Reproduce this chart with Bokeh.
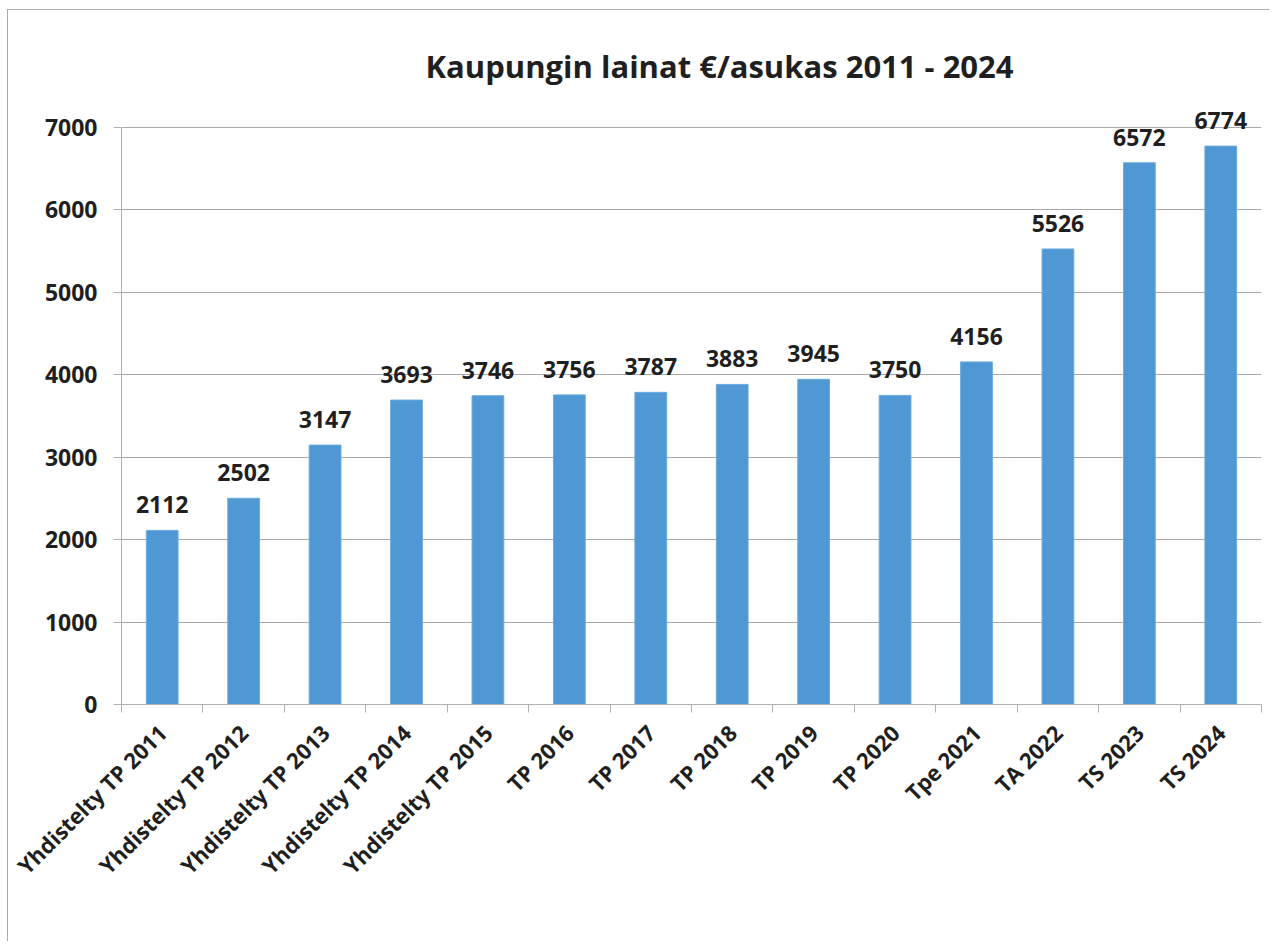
from math import pi
from bokeh.plotting import figure
from bokeh.models import ColumnDataSource, FixedTicker, LabelSet, Title
from bokeh.core.properties import value
from bokeh.embed import file_html
from bokeh.resources import INLINE

categories = ["Yhdistelty TP 2011", "Yhdistelty TP 2012", "Yhdistelty TP 2013",
              "Yhdistelty TP 2014", "Yhdistelty TP 2015", "TP 2016", "TP 2017",
              "TP 2018", "TP 2019", "TP 2020", "Tpe 2021", "TA 2022", "TS 2023", "TS 2024"]
values = [2112, 2502, 3147, 3693, 3746, 3756, 3787, 3883, 3945, 3750, 4156, 5526, 6572, 6774]
y_ticks = [0, 1000, 2000, 3000, 4000, 5000, 6000, 7000]
title_text = "Kaupungin lainat €/asukas 2011 - 2024"

FONT = "Open Sans"
TXT = "#1f1f1f"
BAR = "#4F98D3"
GRID = "#A8A8A8"
AX = "#B0B0B0"

pos = [i + 0.5 for i in range(len(categories))]
src = ColumnDataSource(dict(x=pos, top=values, lab=[str(v) for v in values]))

p = figure(width=1262, height=932, x_range=(0, len(categories)), y_range=(0, 7400),
           output_backend="svg", toolbar_location=None,
           min_border_left=113, min_border_right=9, min_border_top=84, min_border_bottom=238)
p.styles = {"margin-left": "7px", "margin-top": "9px",
            "border-left": "1px solid #ABABAB", "border-top": "1px solid #ABABAB"}
p.outline_line_color = None
p.background_fill_color = "white"
p.border_fill_color = "white"

p.vbar(x="x", top="top", width=0.39, bottom=0, source=src, fill_color=BAR,
       line_color="#6AAAE0", line_width=1)

labels = LabelSet(x="x", y="top", text="lab", source=src, text_align="center",
                  text_baseline="bottom", y_offset=17, text_font=value(FONT),
                  text_font_style="bold", text_font_size="23px", text_color=TXT)
p.add_layout(labels)

t = Title(text=title_text, align="left", text_font=FONT, text_font_style="bold",
          text_font_size="31px", text_color=TXT, standoff=15, offset=304)
p.add_layout(t, "above")

# x axis
xa = p.xaxis[0]
xa.ticker = FixedTicker(ticks=pos, minor_ticks=list(range(len(categories) + 1)))
xa.major_label_overrides = {pp: c for pp, c in zip(pos, categories)}
xa.major_label_orientation = pi / 4
xa.major_tick_line_color = None
xa.minor_tick_line_color = AX
xa.minor_tick_out = 8
xa.minor_tick_in = 0
xa.axis_line_color = AX
xa.major_label_text_font = FONT
xa.major_label_text_font_style = "bold"
xa.major_label_text_font_size = "22px"
xa.major_label_text_color = TXT
xa.major_label_standoff = 16

# y axis
ya = p.yaxis[0]
ya.ticker = FixedTicker(ticks=y_ticks)
ya.bounds = (0, 7000)
ya.axis_line_color = AX
ya.major_tick_line_color = AX
ya.major_tick_out = 8
ya.major_tick_in = 0
ya.minor_tick_line_color = None
ya.major_label_text_font = FONT
ya.major_label_text_font_style = "bold"
ya.major_label_text_font_size = "23px"
ya.major_label_text_color = TXT
ya.major_label_standoff = 16

p.xgrid.grid_line_color = None
p.ygrid.grid_line_color = GRID
p.ygrid.ticker = FixedTicker(ticks=y_ticks)

open("out.html", "w").write(file_html(p, INLINE))
